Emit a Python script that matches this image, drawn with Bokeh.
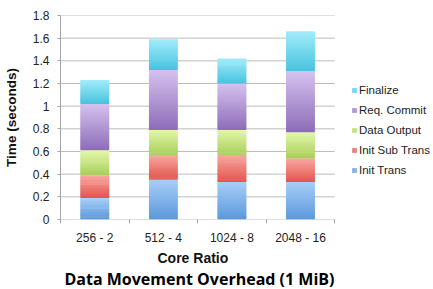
import numpy as np
from bokeh.plotting import figure
from bokeh.models import Range1d, FixedTicker, Legend, LegendItem, Title
from bokeh.embed import file_html
from bokeh.resources import INLINE

categories = ["256 - 2", "512 - 4", "1024 - 8", "2048 - 16"]
series_names = ["Init Trans", "Init Sub Trans", "Data Output", "Req. Commit", "Finalize"]
init_trans = [0.19, 0.35, 0.33, 0.33]
init_sub_trans = [0.20, 0.22, 0.24, 0.21]
data_output = [0.22, 0.22, 0.22, 0.23]
req_commit = [0.41, 0.53, 0.41, 0.54]
finalize = [0.21, 0.27, 0.22, 0.35]
y_ticks = [0, 0.2, 0.4, 0.6, 0.8, 1.0, 1.2, 1.4, 1.6, 1.8]
y_tick_labels = ["0", "0.2", "0.4", "0.6", "0.8", "1", "1.2", "1.4", "1.6", "1.8"]
# gradient colours of each series: (bottom, top)
bottom_colors = ["#5a98da", "#e0544b", "#a8ce5a", "#8c6cb8", "#46c3de"]
top_colors = ["#a8cef8", "#faa8a3", "#e3f8aa", "#d6c2ef", "#a2ecfb"]

series_values = [init_trans, init_sub_trans, data_output, req_commit, finalize]

# layout constants: the bar area is 275px wide inside a 374px wide frame
BAR_AREA_PX = 275
FRAME_PX = 374
BAR_WIDTH = 0.42
BANDS = 24

n = len(categories)
x_centers = list(np.arange(n) + 0.5)
x_bounds = list(np.arange(n + 1).astype(float))
x_end = n * FRAME_PX / BAR_AREA_PX


def hex_to_rgb(h):
    return np.array([int(h[i:i + 2], 16) for i in (1, 3, 5)], dtype=float)


def rgb_to_hex(c):
    return "#%02x%02x%02x" % tuple(int(round(v)) for v in c)


p = figure(width=433, height=289, output_backend="svg", toolbar_location=None,
           x_range=Range1d(0, x_end), y_range=Range1d(0, y_ticks[-1]),
           min_border_left=59, min_border_right=0, min_border_top=15, min_border_bottom=69)
p.outline_line_color = None
p.background_fill_color = "white"
p.border_fill_color = "white"
p.xgrid.visible = False
p.ygrid.visible = False

# horizontal grid lines spanning only the bar area
p.segment(x0=[0] * len(y_ticks), x1=[n] * len(y_ticks), y0=y_ticks, y1=y_ticks,
          line_color="#bdbdbd", line_width=1)

# stacked bars, each segment drawn as a vertical gradient of thin overlapping bands
base = np.zeros(n)
renderers = []
for vals, c_bot, c_top in zip(series_values, bottom_colors, top_colors):
    vals = np.asarray(vals, dtype=float)
    cb, ct = hex_to_rgb(c_bot), hex_to_rgb(c_top)
    lefts, rights, bots, tops, cols = [], [], [], [], []
    for k in range(BANDS):
        f0 = k / BANDS
        f1 = min((k + 1.6) / BANDS, 1.0)
        col = rgb_to_hex(cb + (ct - cb) * (k + 0.5) / BANDS)
        for j in range(n):
            lefts.append(x_centers[j] - BAR_WIDTH / 2)
            rights.append(x_centers[j] + BAR_WIDTH / 2)
            bots.append(base[j] + vals[j] * f0)
            tops.append(base[j] + vals[j] * f1)
            cols.append(col)
    r = p.quad(left=lefts, right=rights, bottom=bots, top=tops,
               fill_color=cols, line_color=None)
    renderers.append(r)
    base = base + vals

mid_index = (BANDS // 2) * n
items = [LegendItem(label=nm, renderers=[r], index=mid_index) for nm, r in zip(series_names, renderers)]
items.reverse()
legend = Legend(items=items, location=(291, 39), orientation="vertical",
                glyph_width=6, glyph_height=6, label_standoff=2,
                label_text_font_size="11.5px", label_text_font="Liberation Sans",
                label_text_color="#222222",
                label_height=20, spacing=0, padding=0, margin=0,
                border_line_color=None, background_fill_alpha=0)
p.add_layout(legend)

# y axis
yax = p.yaxis[0]
yax.ticker = FixedTicker(ticks=y_ticks)
yax.major_label_overrides = dict(zip(y_ticks, y_tick_labels))
yax.major_tick_out = 3
yax.major_tick_in = 0
yax.minor_tick_line_color = None
yax.axis_line_color = "#a6a6a6"
yax.major_tick_line_color = "#a6a6a6"
yax.major_label_text_font = "Liberation Sans"
yax.major_label_text_font_size = "12px"
yax.major_label_text_color = "#222222"
yax.major_label_standoff = 8
yax.axis_label = "Time (seconds)"
yax.axis_label_text_font = "Liberation Sans"
yax.axis_label_text_font_size = "13.5px"
yax.axis_label_text_font_style = "bold"
yax.axis_label_text_color = "#111111"
yax.axis_label_standoff = 11

# x axis
xax = p.xaxis[0]
xax.ticker = FixedTicker(ticks=x_centers, minor_ticks=x_bounds)
xax.major_label_overrides = dict(zip(x_centers, categories))
xax.major_tick_out = 0
xax.major_tick_in = 0
xax.minor_tick_out = 4
xax.minor_tick_in = 0
xax.minor_tick_line_color = "#a6a6a6"
xax.axis_line_color = None
xax.major_label_text_font = "Liberation Sans"
xax.major_label_text_font_size = "12px"
xax.major_label_text_color = "#222222"
xax.major_label_standoff = 7

p.add_layout(Title(text="Core Ratio", align="left",
                   text_font="Liberation Sans", text_font_size="14px", text_font_style="bold",
                   text_color="#111111", standoff=0, offset=97), "below")
p.add_layout(Title(text="Data Movement Overhead (1 MiB)", align="left",
                   text_font="Open Sans", text_font_size="16px", text_font_style="bold",
                   text_color="#000000", standoff=0, offset=4), "below")

open("out.html", "w").write(file_html(p, INLINE))
